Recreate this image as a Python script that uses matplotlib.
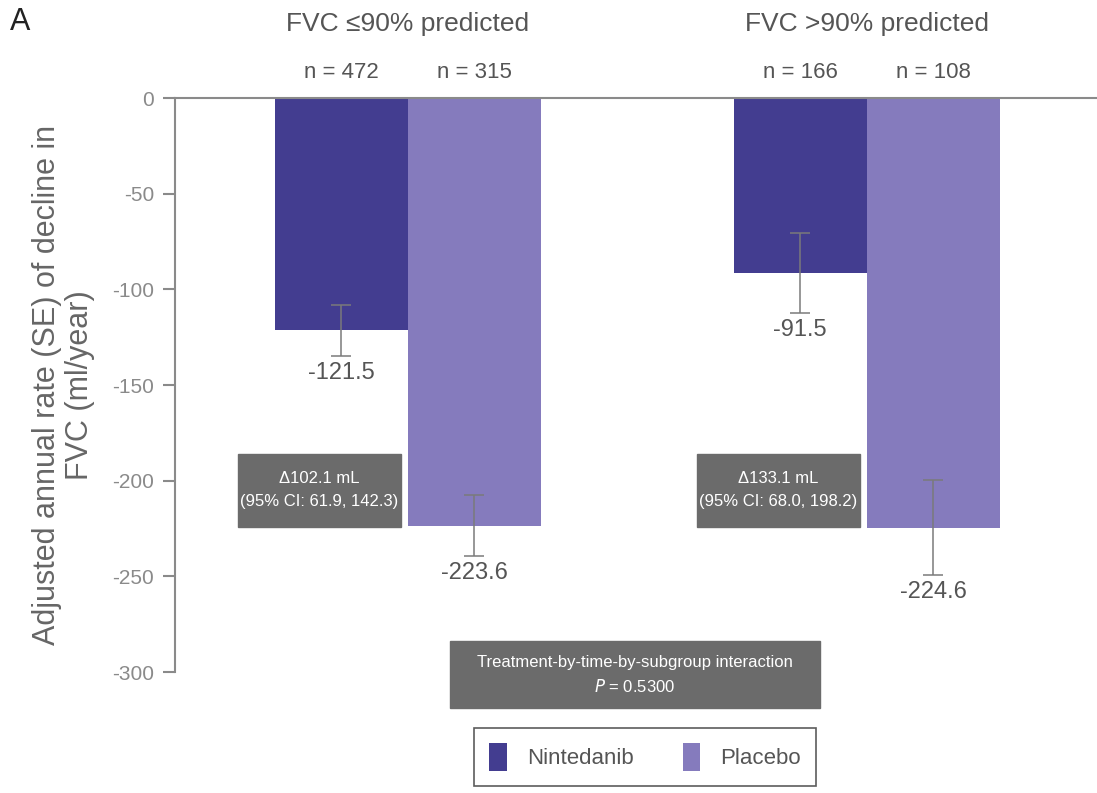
import matplotlib
matplotlib.use("Agg")
import matplotlib.pyplot as plt
from matplotlib.patches import Rectangle

groups = ["FVC \u226490% predicted", "FVC >90% predicted"]
treatments = ["Nintedanib", "Placebo"]
n_counts = [[472, 315], [166, 108]]
rates = [[-121.5, -223.6], [-91.5, -224.6]]
se = [[13.5, 16.0], [21.0, 24.8]]
diffs = ["\u0394102.1 mL\n(95% CI: 61.9, 142.3)", "\u0394133.1 mL\n(95% CI: 68.0, 198.2)"]
interaction = "Treatment-by-time-by-subgroup interaction\n$P$ = 0.5300"
yticks = [0, -50, -100, -150, -200, -250, -300]

colors = ["#433d90", "#857bbd"]
txt = "#555555"
plt.rcParams["font.family"] = ["Liberation Sans", "DejaVu Sans"]

fig = plt.figure(figsize=(10.97, 7.93), dpi=100)
ax = fig.add_axes([175 / 1097, 121 / 793, 922 / 1097, 574 / 793])

centers = [1.75, 5.2]
for g, c in enumerate(centers):
    for t in range(2):
        x = c - 0.5 + t
        ax.bar(x, rates[g][t], width=1.0, color=colors[t], label=treatments[t] if g == 0 else None)
        ax.errorbar(x, rates[g][t], yerr=se[g][t], color="#7a7a7a", capsize=7, lw=1.1, capthick=1.1)
        ax.text(x, rates[g][t] - se[g][t] - 3, f"{rates[g][t]:.1f}", ha="center", va="top",
                fontsize=17, color=txt)
        ax.annotate(f"n = {n_counts[g][t]}", (x, 0), xytext=(0, 18), textcoords="offset points",
                    ha="center", va="center", fontsize=16, color=txt)
    ax.annotate(groups[g], (c, 0), xytext=(0, 53), textcoords="offset points",
                ha="center", va="center", fontsize=19, color=txt)

ax.set_xlim(0, 922 / 133)
ax.set_ylim(-300, 0)
ax.set_yticks(yticks)
ax.set_yticklabels([str(v) for v in yticks], fontsize=15, color="#8a8a8a")
ax.set_xticks([])
for s in ["right", "bottom"]:
    ax.spines[s].set_visible(False)
for s in ["left", "top"]:
    ax.spines[s].set_color("#8a8a8a")
    ax.spines[s].set_linewidth(1.5)
ax.tick_params(axis="y", length=9, width=1.5, color="#8a8a8a", pad=6)
ax.set_ylabel("Adjusted annual rate (SE) of decline in\nFVC (ml/year)", fontsize=22,
              color="#666666", labelpad=12, linespacing=1.15)

# treatment difference boxes
for g, c in enumerate(centers):
    x0 = c - 1 - (275 - 238) / 133
    ax.add_patch(Rectangle((x0, -224), 163 / 133, 73 / 1.913, color="#6b6b6b", zorder=3))
    ax.text(x0 + 163 / 133 / 2, -224 + 73 / 1.913 / 2, diffs[g], ha="center", va="center",
            fontsize=12, color="white", zorder=4, linespacing=1.6)

# interaction box and legend below the axes
fig.patches.append(Rectangle((450 / 1097, 1 - 708 / 793), 370 / 1097, 67 / 793,
                             transform=fig.transFigure, color="#6b6b6b"))
fig.text(635 / 1097, 1 - 675 / 793, interaction, ha="center", va="center", fontsize=12,
         color="white", linespacing=1.6)
leg = fig.legend(loc="center", bbox_to_anchor=(645 / 1097, 1 - 757 / 793), ncol=2, fontsize=16,
                 frameon=True, fancybox=False, edgecolor="#333333", handlelength=0.8,
                 handleheight=1.5, columnspacing=2.2, borderpad=0.7, handletextpad=0.9,
                 labelcolor=txt)
leg.get_frame().set_linewidth(1.2)

fig.text(10 / 1097, 1 - 22 / 793, "A", fontsize=22, color="#222222", va="center")

fig.savefig("out.png", dpi=100)
